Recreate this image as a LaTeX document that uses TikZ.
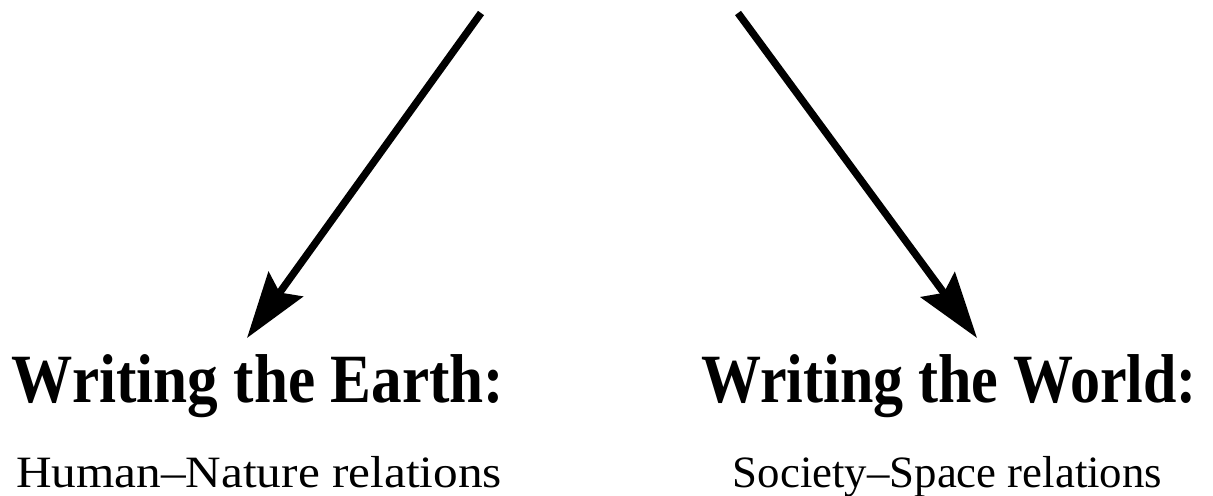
\documentclass[tikz,border=0pt]{standalone}
\usepackage{fontspec}
\setmainfont{Liberation Serif}
\usetikzlibrary{arrows.meta}
\tikzset{
  arr/.style={line width=4.2pt, -{Stealth[length=1.32cm,width=0.84cm,inset=0.2cm]}},
  heading/.style={anchor=base, inner sep=0pt, font=\fontsize{34.5}{38}\selectfont\bfseries},
  subhead/.style={anchor=base, inner sep=0pt, font=\fontsize{25.5}{28}\selectfont},
}
\begin{document}
\begin{tikzpicture}
\useasboundingbox (0,0) rectangle (24.26,-9.9);
\node[heading] (earth) at (5.16,-8.04) {\scalebox{1.01}[1.14]{Writing the Earth:}};
\node[subhead] (earthsub) at (5.18,-9.74) {\scalebox{1.1}[1]{Human–Nature relations}};
\node[heading] (world) at (18.98,-8.04) {\scalebox{0.99}[1.14]{Writing the World:}};
\node[subhead] (worldsub) at (18.95,-9.74) {Society–Space relations};
\coordinate (src1) at (9.62,-0.26);
\coordinate (tip1) at (4.94,-6.76);
\coordinate (src2) at (14.76,-0.26);
\coordinate (tip2) at (19.54,-6.76);
\draw[arr] (src1) -- (tip1);
\draw[arr] (src2) -- (tip2);
\end{tikzpicture}
\end{document}
